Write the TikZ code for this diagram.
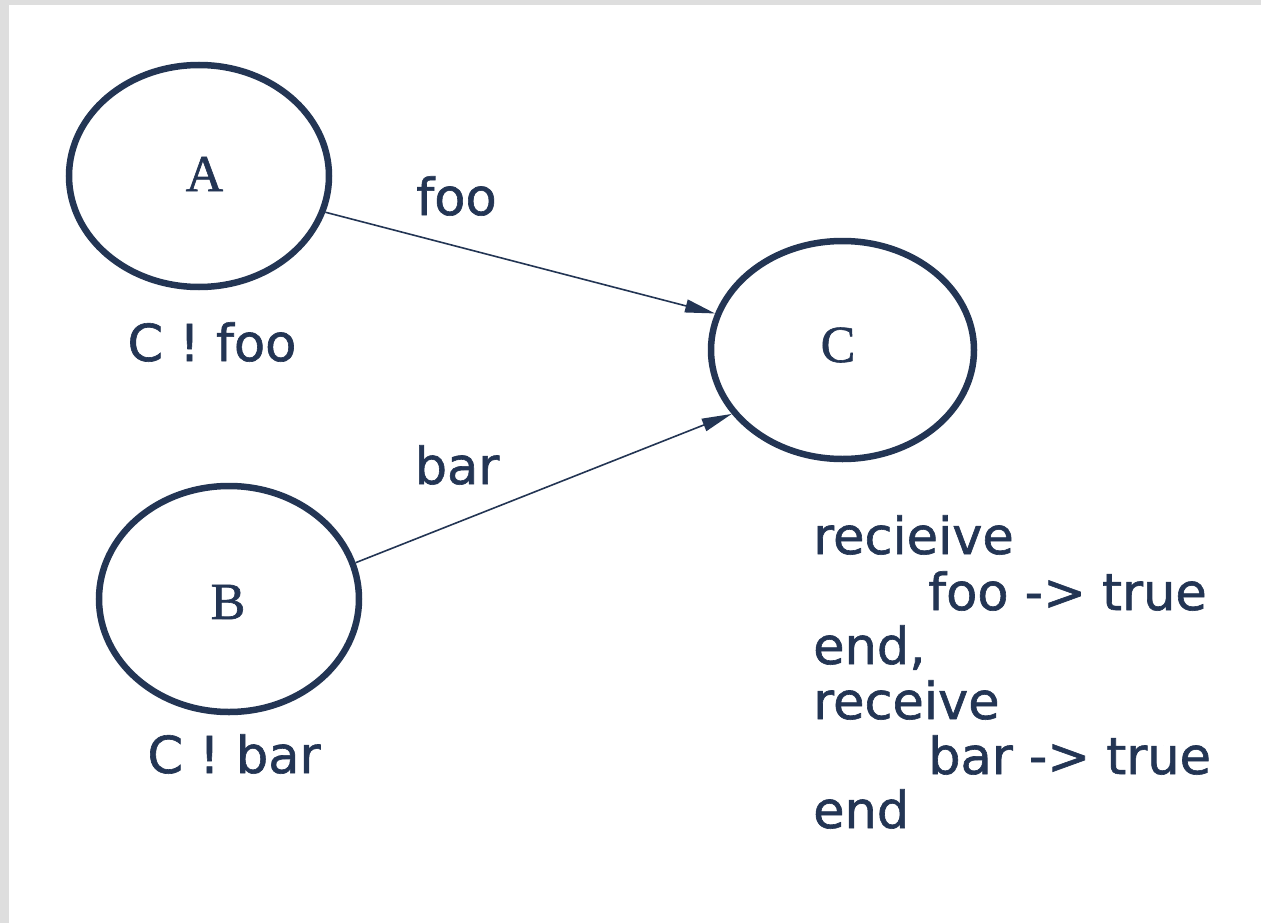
\documentclass[tikz,border=0pt]{standalone}
\usepackage{fontspec}
\setmainfont[FakeBold=1.2]{DejaVu Sans}
\newfontfamily\serifletter[FakeBold=1.2]{Liberation Serif}
\usetikzlibrary{shapes.geometric,arrows.meta}
\definecolor{navy}{HTML}{233554}
\definecolor{frame}{HTML}{DEDEDE}
\tikzset{
  proc/.style={ellipse, draw=navy, line width=6.5pt, inner sep=0pt},
  procname/.style={font=\serifletter\fontsize{52}{52}\selectfont, text=navy},
  lbl/.style={font=\fontsize{51}{51}\selectfont, text=navy, inner sep=0pt, anchor=base},
  codeline/.style={font=\fontsize{51}{51}\selectfont, text=navy, inner sep=0pt, anchor=base west},
  msg/.style={draw=navy, line width=1.6pt, -{Triangle[length=30pt,width=13pt]}}
}
\begin{document}
\begin{tikzpicture}[x=1pt,y=-1pt]
\fill[frame] (0,0) rectangle (1261,923);
\fill[white] (9,5) rectangle (1261,923);
\useasboundingbox (0,0) rectangle (1261,923);

\node[proc, minimum width=260pt, minimum height=222pt] (A) at (199,176) {};
\node[proc, minimum width=260pt, minimum height=226pt] (B) at (229,599) {};
\node[proc, minimum width=263pt, minimum height=218pt] (C) at (842.5,350) {};

\node[procname] (Aname) at (204.5,174) {A};
\node[procname] (Bname) at (228,602) {B};
\node[procname] (Cname) at (838,345) {C};

\node[lbl] (Asend) at (212,361) {C ! foo};
\node[lbl] (Bsend) at (234,773) {C ! bar};
\node[lbl] (foo) at (456.5,215) {foo};
\node[lbl] (bar) at (457,484) {bar};

\draw[msg] (A.-16) -- (C.164);
\draw[msg] (B.16.5) -- (C.-150);

\node[codeline] (c1) at (813,554) {recieive};
\node[codeline] (c2) at (928,610) {foo -> true};
\node[codeline] (c3) at (813,664) {end,};
\node[codeline] (c4) at (813,719) {receive};
\node[codeline] (c5) at (928,774) {bar -> true};
\node[codeline] (c6) at (813,828) {end};
\end{tikzpicture}
\end{document}
